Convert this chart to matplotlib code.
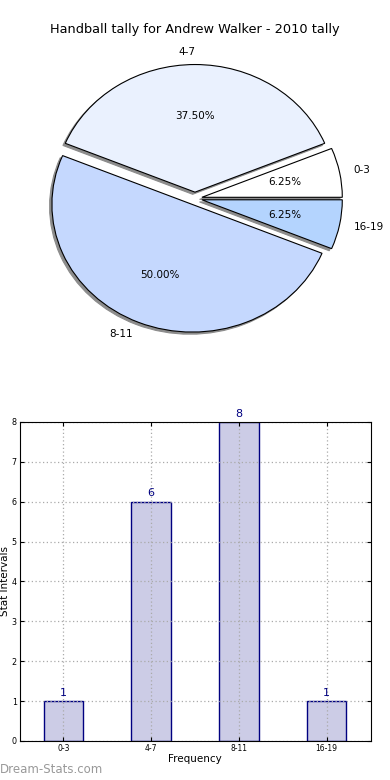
import matplotlib
matplotlib.use('Agg')
import matplotlib.pyplot as plt

# data
categories = ['0-3', '4-7', '8-11', '16-19']
counts = [1, 6, 8, 1]
pie_colors = ['#FFFFFF', '#EAF1FE', '#C5D8FE', '#B4D4FE']
explode = [0.05, 0.05, 0.05, 0.05]
yticks = [0, 1, 2, 3, 4, 5, 6, 7, 8]

title = 'Handball tally for Andrew Walker - 2010 tally'


def main():
    fig = plt.figure(figsize=(3.9, 7.8), dpi=100)
    fig.subplots_adjust(left=0.05, right=0.95, bottom=0.05, top=0.95, hspace=0.2)

    # pie
    ax1 = fig.add_subplot(2, 1, 1)
    shadow = {'ox': -0.012, 'oy': -0.012, 'facecolor': '#8C8C8C',
              'edgecolor': '#8C8C8C', 'alpha': 1.0}
    wedges, texts, autotexts = ax1.pie(
        counts, labels=categories, colors=pie_colors, explode=explode,
        autopct='%.2f%%', shadow=shadow, startangle=0,
        wedgeprops={'edgecolor': 'black', 'linewidth': 0.8},
        textprops={'fontsize': 7.5})
    ax1.set_aspect('auto')
    ax1.set_xlim(-1.25, 1.25)
    ax1.set_ylim(-1.25, 1.25)
    ax1.set_title(title, fontsize=9.3, pad=4)

    # bars
    ax2 = fig.add_subplot(2, 1, 2)
    x = list(range(len(categories)))
    ax2.bar(x, counts, width=0.45, color='#CCCCE6', edgecolor='#000080', linewidth=1.0)
    for xi, v in zip(x, counts):
        ax2.text(xi, v + 0.08, str(v), ha='center', va='bottom', color='#000080', fontsize=8)
    ax2.set_xlim(-0.5, 3.5)
    ax2.set_ylim(0, 8)
    ax2.set_xticks(x)
    ax2.set_xticklabels(categories, fontsize=5.5)
    ax2.set_yticks(yticks)
    ax2.tick_params(axis='y', labelsize=5.8)
    ax2.tick_params(direction='in', top=True, right=True, length=3, pad=2)
    ax2.set_axisbelow(False)
    ax2.grid(True, linestyle=(0, (1, 2)), color='#AAAAAA', linewidth=0.9)
    for sp in ax2.spines.values():
        sp.set_zorder(4)
    ax2.set_xlabel('Frequency', fontsize=7.5, labelpad=1)
    ax2.set_ylabel('Stat Intervals', fontsize=7.5, labelpad=1)

    fig.text(0.0, 0.005, 'Dream-Stats.com', fontsize=8.5, color='#999999', ha='left', va='bottom')

    fig.savefig('out.png', dpi=100)


if __name__ == '__main__':
    main()
